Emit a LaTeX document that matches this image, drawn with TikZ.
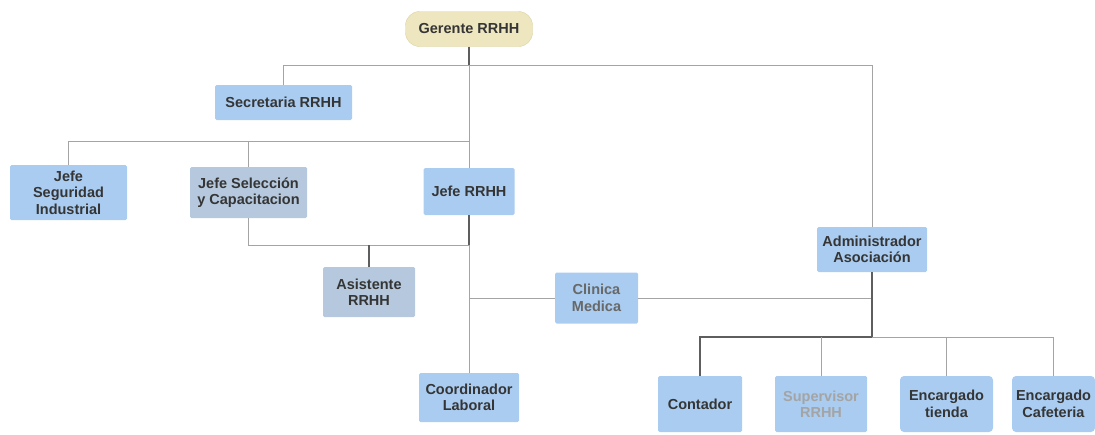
\documentclass[tikz,border=0pt]{standalone}
\usepackage{fontspec}
\setmainfont{Liberation Sans}
\definecolor{boxblue}{HTML}{A9CCF0}
\definecolor{boxgrey}{HTML}{B5C8DD}
\definecolor{gerfill}{HTML}{EEE6BF}
\definecolor{gerline}{HTML}{DCD2A2}
\definecolor{lnlight}{HTML}{A4A4A4}
\definecolor{lndark}{HTML}{5E5E5E}
\definecolor{txt}{HTML}{353535}
\begin{document}
\begin{tikzpicture}[x=1pt,y=-1pt,
  box/.style={rectangle, rounded corners=1.5pt, fill=boxblue, inner sep=0pt, align=center,
    text=txt, font=\bfseries\fontsize{14.5}{16.5}\selectfont},
  greybox/.style={box, fill=boxgrey},
  roundbox/.style={box, rounded corners=4pt},
  conn/.style={draw=lnlight, line width=1pt},
  connd/.style={draw=lndark, line width=1.2pt}]
\useasboundingbox (0,0) rectangle (1095,434);

% nodes
\node[box, fill=gerfill, draw=gerline, rounded corners=14pt, minimum width=127pt, minimum height=35pt] (ger) at (469,29) {Gerente RRHH};
\node[box, minimum width=137pt, minimum height=35pt] (sec) at (283.5,102.5) {Secretaria RRHH};
\node[box, minimum width=117pt, minimum height=55pt] (seg) at (68.5,192.5) {Jefe\\Seguridad\\Industrial};
\node[greybox, minimum width=117pt, minimum height=51pt] (sel) at (248.5,192.5) {Jefe Selección\\y Capacitacion};
\node[box, minimum width=91pt, minimum height=47pt] (jrh) at (469,191.5) {Jefe RRHH};
\node[greybox, minimum width=92pt, minimum height=50pt] (asi) at (369,292) {Asistente\\RRHH};
\node[box, minimum width=83pt, minimum height=51pt, text=txt!75] (cli) at (596.5,298) {Clinica\\Medica};
\node[box, minimum width=100pt, minimum height=49pt] (coo) at (469,397.5) {Coordinador\\Laboral};
\node[box, minimum width=110pt, minimum height=45pt] (adm) at (872,249.5) {Administrador\\Asociación};
\node[box, minimum width=84pt, minimum height=56pt] (con) at (700,404) {Contador};
\node[box, minimum width=92pt, minimum height=56pt, text=txt!45] (sup) at (821,404) {Supervisor\\RRHH};
\node[roundbox, minimum width=93pt, minimum height=56pt] (tie) at (946.5,404) {Encargado\\tienda};
\node[roundbox, minimum width=83pt, minimum height=56pt] (caf) at (1053.5,404) {Encargado\\Cafeteria};

% junction coordinates
\coordinate (top) at (469,65);
\coordinate (mid) at (469,141);
\coordinate (low) at (469,245);
\coordinate (adx) at (872,65);
\coordinate (bus) at (872,337);

% connectors
\draw[connd] (ger.south) -- (top);
\draw[conn] (top) -- (jrh.north);
\draw[conn] (top) -| (sec.north);
\draw[conn] (top) -- (adx) -- (adm.north);
\draw[conn] (mid) -| (seg.north);
\draw[conn] (mid) -| (sel.north);
\draw[conn] (sel.south) |- (low);
\draw[connd] (asi.north) -- (asi.north |- low);
\draw[connd] (jrh.south) -- (low);
\draw[conn] (low) -- (coo.north);
\draw[conn] (low |- cli.west) -- (cli.west);
\draw[conn] (cli.east) -- (cli.east -| adm);
\draw[connd] (adm.south) -- (bus);
\draw[connd] (bus) -| (con.north);
\draw[conn] (bus) -| (caf.north);
\draw[conn] (sup.north) -- (sup.north |- bus);
\draw[conn] (tie.north) -- (tie.north |- bus);
\end{tikzpicture}
\end{document}
